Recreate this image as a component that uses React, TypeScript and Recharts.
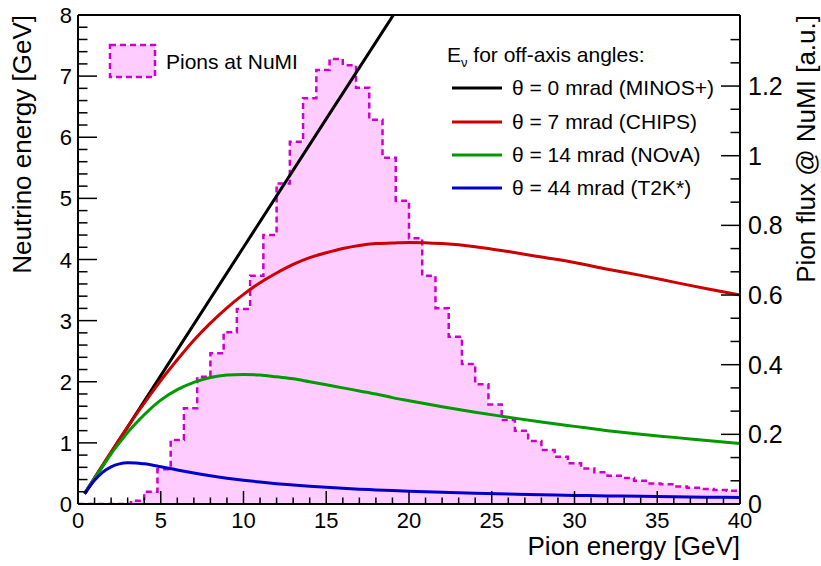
import { Area, ComposedChart, Line, XAxis, YAxis } from 'recharts';

const FONT = '"Liberation Sans", Arial, Helvetica, sans-serif';

// pion flux histogram, 0.8 GeV bins from 0 to 40 GeV (right axis, a.u.)
const BIN_WIDTH = 0.8;
const pionFlux = [
  0, 0, 0, 0, 0.009, 0.035, 0.1, 0.184, 0.275, 0.365,
  0.433, 0.493, 0.56, 0.655, 0.772, 0.92, 1.04, 1.165, 1.246, 1.278,
  1.26, 1.195, 1.103, 0.994, 0.871, 0.763, 0.655, 0.562, 0.48, 0.402,
  0.344, 0.286, 0.241, 0.21, 0.181, 0.155, 0.136, 0.117, 0.102, 0.091,
  0.081, 0.075, 0.067, 0.059, 0.057, 0.05, 0.047, 0.043, 0.04, 0.038,
];

// neutrino energy vs pion energy, per off-axis angle
const curveE = [
  0.4, 1, 1.5, 2, 2.5, 3, 3.5, 4, 5, 6, 7, 8, 9, 10, 11, 12, 13, 14, 15, 16,
  17, 18, 19, 20, 22, 24, 26, 28, 30, 32, 34, 36, 38, 40,
];
const minosE = [0.4, 2, 5, 10, 15, 19.2];
const minosEv = [0.17, 0.84, 2.1, 4.2, 6.3, 8.06];
const chipsEv = [
  0.17, 0.43, 0.64, 0.85, 1.06, 1.26, 1.46, 1.65, 2.02, 2.36, 2.68, 2.96, 3.21, 3.43,
  3.62, 3.78, 3.92, 4.03, 4.11, 4.18, 4.23, 4.26, 4.27, 4.28, 4.26, 4.21, 4.13, 4.04,
  3.95, 3.84, 3.74, 3.63, 3.52, 3.42,
];
const novaEv = [
  0.17, 0.42, 0.62, 0.82, 1.0, 1.17, 1.32, 1.46, 1.7, 1.87, 1.99, 2.07, 2.11, 2.12,
  2.11, 2.08, 2.05, 2.0, 1.95, 1.9, 1.85, 1.8, 1.74, 1.69, 1.59, 1.5, 1.42, 1.34,
  1.27, 1.2, 1.14, 1.09, 1.04, 0.99,
];
const t2kEv = [
  0.167, 0.387, 0.521, 0.608, 0.656, 0.673, 0.671, 0.657, 0.61, 0.557, 0.507, 0.462,
  0.423, 0.389, 0.359, 0.333, 0.311, 0.291, 0.273, 0.257, 0.243, 0.231, 0.219, 0.209,
  0.191, 0.175, 0.162, 0.151, 0.141, 0.132, 0.125, 0.118, 0.112, 0.106,
];

const histData = [
  ...pionFlux.map((v, i) => ({ e: i * BIN_WIDTH, flux: v })),
  { e: 40, flux: pionFlux[pionFlux.length - 1] },
];
const minosData = minosE.map((e, i) => ({ e, v: minosEv[i] }));
const chipsData = curveE.map((e, i) => ({ e, v: chipsEv[i] }));
const novaData = curveE.map((e, i) => ({ e, v: novaEv[i] }));
const t2kData = curveE.map((e, i) => ({ e, v: t2kEv[i] }));

const xTicks = Array.from({ length: 41 }, (_, i) => i);
const leftTicks = Array.from({ length: 41 }, (_, i) => i / 5);
const rightTicks = Array.from({ length: 21 }, (_, i) => i / 15);

const onStep = (v: number, step: number) => Math.abs(v / step - Math.round(v / step)) < 1e-6;
const fmt = (v: number) => String(Math.round(v * 10) / 10);

function BottomTick({ x, y, payload }: any) {
  const major = onStep(payload.value, 5);
  return (
    <g>
      <line x1={x} x2={x} y1={y} y2={y - (major ? 13 : 6.5)} stroke="#000" strokeWidth={1.5} />
      {major && (
        <text x={x} y={y + 24} textAnchor="middle" fontSize={22} fontFamily={FONT} fill="#000">
          {payload.value}
        </text>
      )}
    </g>
  );
}

function TopTick({ x, y, payload }: any) {
  const major = onStep(payload.value, 5);
  return <line x1={x} x2={x} y1={y} y2={y + (major ? 13 : 6.5)} stroke="#000" strokeWidth={1.5} />;
}

function LeftTick({ x, y, payload }: any) {
  const major = onStep(payload.value, 1);
  return (
    <g>
      <line x1={x} x2={x + (major ? 19 : 9.5)} y1={y} y2={y} stroke="#000" strokeWidth={1.5} />
      {major && (
        <text x={x - 6} y={y + 8} textAnchor="end" fontSize={22} fontFamily={FONT} fill="#000">
          {fmt(payload.value)}
        </text>
      )}
    </g>
  );
}

function RightTick({ x, y, payload }: any) {
  const major = onStep(payload.value, 0.2);
  return (
    <g>
      <line x1={x} x2={x - (major ? 19 : 9.5)} y1={y} y2={y} stroke="#000" strokeWidth={1.5} />
      {major && (
        <text x={x + 8} y={y + 9} textAnchor="start" fontSize={25} fontFamily={FONT} fill="#000">
          {fmt(payload.value)}
        </text>
      )}
    </g>
  );
}

const curves = [
  { label: 'θ = 0 mrad (MINOS+)', color: '#000000' },
  { label: 'θ = 7 mrad (CHIPS)', color: '#cc0000' },
  { label: 'θ = 14 mrad (NOvA)', color: '#009900' },
  { label: 'θ = 44 mrad (T2K*)', color: '#0000cc' },
];
const legendRows = [88, 122, 155, 188];

export default function App() {
  return (
    <div style={{ position: 'absolute', left: 0, top: 0, width: 821, height: 566, background: '#fff' }}>
      <ComposedChart width={821} height={566} margin={{ top: 14, right: 8, bottom: 8, left: 8 }}>
        <XAxis
          dataKey="e"
          type="number"
          domain={[0, 40]}
          ticks={xTicks}
          interval={0}
          height={54}
          tickSize={0}
          tickMargin={0}
          tickLine={false}
          tick={(p: any) => <BottomTick {...p} />}
          axisLine={{ stroke: '#000', strokeWidth: 2 }}
        />
        <XAxis
          xAxisId="top"
          orientation="top"
          dataKey="e"
          type="number"
          domain={[0, 40]}
          ticks={xTicks}
          interval={0}
          height={1}
          tickSize={0}
          tickMargin={0}
          tickLine={false}
          tick={(p: any) => <TopTick {...p} />}
          axisLine={{ stroke: '#000', strokeWidth: 2 }}
        />
        <YAxis
          yAxisId="ev"
          type="number"
          domain={[0, 8]}
          allowDataOverflow
          ticks={leftTicks}
          interval={0}
          width={70}
          tickSize={0}
          tickMargin={0}
          tickLine={false}
          tick={(p: any) => <LeftTick {...p} />}
          axisLine={{ stroke: '#000', strokeWidth: 2 }}
        />
        <YAxis
          yAxisId="flux"
          orientation="right"
          type="number"
          domain={[0, 1.404]}
          allowDataOverflow
          ticks={rightTicks}
          interval={0}
          width={73}
          tickSize={0}
          tickMargin={0}
          tickLine={false}
          tick={(p: any) => <RightTick {...p} />}
          axisLine={{ stroke: '#000', strokeWidth: 2 }}
        />
        <Area
          yAxisId="flux"
          data={histData}
          dataKey="flux"
          type="stepAfter"
          fill="#ffccff"
          fillOpacity={1}
          stroke="#cc00cc"
          strokeWidth={2.5}
          strokeDasharray="6 4"
          isAnimationActive={false}
        />
        <Line yAxisId="ev" data={minosData} dataKey="v" type="linear" stroke={curves[0].color} strokeWidth={3} dot={false} isAnimationActive={false} />
        <Line yAxisId="ev" data={chipsData} dataKey="v" type="monotone" stroke={curves[1].color} strokeWidth={3} dot={false} isAnimationActive={false} />
        <Line yAxisId="ev" data={novaData} dataKey="v" type="monotone" stroke={curves[2].color} strokeWidth={3} dot={false} isAnimationActive={false} />
        <Line yAxisId="ev" data={t2kData} dataKey="v" type="monotone" stroke={curves[3].color} strokeWidth={3} dot={false} isAnimationActive={false} />
      </ComposedChart>

      <svg
        width={821}
        height={566}
        style={{ position: 'absolute', left: 0, top: 0, pointerEvents: 'none' }}
        fontFamily={FONT}
      >
        <text x={740} y={555} textAnchor="end" fontSize={26} fill="#000">
          Pion energy [GeV]
        </text>
        <text transform="translate(31,15) rotate(-90)" textAnchor="end" fontSize={26} fill="#000">
          Neutrino energy [GeV]
        </text>
        <text transform="translate(815,15) rotate(-90)" textAnchor="end" fontSize={26} fill="#000">
          Pion flux @ NuMI [a.u.]
        </text>

        <rect x={110} y={45} width={45} height={32} fill="#ffccff" stroke="#cc00cc" strokeWidth={2.5} strokeDasharray="6 4" />
        <text x={166} y={69} fontSize={21} fill="#000">
          Pions at NuMI
        </text>

        <text x={447} y={62} fontSize={21} fill="#000">
          E<tspan fontSize={13} dy={5}>ν</tspan>
          <tspan dy={-5}> for off-axis angles:</tspan>
        </text>
        {curves.map((c, i) => (
          <g key={c.label}>
            <line x1={452} x2={502} y1={legendRows[i]} y2={legendRows[i]} stroke={c.color} strokeWidth={3} />
            <text x={512} y={legendRows[i] + 7} fontSize={21} fill="#000">
              {c.label}
            </text>
          </g>
        ))}
      </svg>
    </div>
  );
}
